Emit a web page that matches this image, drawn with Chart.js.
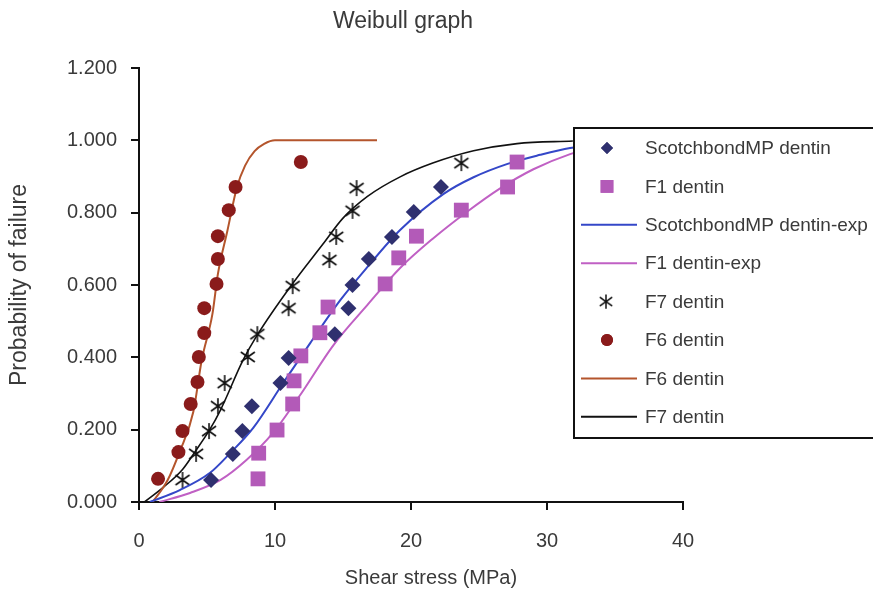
<!DOCTYPE html>
<html>
<head>
<meta charset="utf-8">
<script src="https://cdn.jsdelivr.net/npm/chart.js@4/dist/chart.umd.min.js"></script>
<style>
  html, body { margin: 0; padding: 0; background: #fff; }
  #wrap { width: 873px; height: 596px; }
</style>
</head>
<body>
<div id="wrap"><canvas id="myChart" width="873" height="596"></canvas></div>
<script>
// measured points (shear stress MPa, probability of failure)
var scotchX = [5.3, 6.9, 7.6, 8.3, 10.4, 11.0, 14.4, 15.4, 15.7, 16.9, 18.6, 20.2, 22.2];
var scotchY = [0.061, 0.133, 0.196, 0.265, 0.329, 0.398, 0.464, 0.536, 0.600, 0.672, 0.733, 0.802, 0.871];

var f1X = [8.75, 8.8, 10.15, 11.3, 11.4, 11.9, 13.3, 13.9, 18.1, 19.1, 20.4, 23.7, 27.1, 27.8];
var f1Y = [0.064, 0.135, 0.199, 0.271, 0.335, 0.404, 0.468, 0.539, 0.603, 0.675, 0.735, 0.807, 0.871, 0.940];

var f7X = [3.2, 4.2, 5.15, 5.8, 6.3, 8.0, 8.7, 11.0, 11.3, 14.0, 14.5, 15.7, 16.0, 23.7];
var f7Y = [0.061, 0.133, 0.196, 0.265, 0.329, 0.401, 0.464, 0.536, 0.597, 0.669, 0.733, 0.805, 0.868, 0.937];

var f6X = [1.4, 2.9, 3.2, 3.8, 4.3, 4.4, 4.8, 4.8, 5.7, 5.8, 5.8, 6.6, 7.1, 11.9];
var f6Y = [0.064, 0.138, 0.196, 0.271, 0.332, 0.401, 0.467, 0.536, 0.603, 0.672, 0.735, 0.807, 0.871, 0.940];

// fitted weibull curves
var scotchFitX = [0.8, 3.0, 5.2, 6.7, 8.4, 10.6, 12.6, 14.8, 16.8, 19.2, 22.4, 24.6, 27.1, 29.5, 31.7, 34];
var scotchFitY = [0.0, 0.033, 0.080, 0.135, 0.205, 0.329, 0.440, 0.558, 0.650, 0.752, 0.852, 0.898, 0.935, 0.960, 0.979, 0.99];

var f1FitX = [1.5, 3.75, 6.0, 7.9, 9.85, 11.8, 14.3, 16.8, 19.2, 21.6, 24.1, 26.5, 29.0, 31.7, 34];
var f1FitY = [0.0, 0.025, 0.061, 0.116, 0.191, 0.293, 0.434, 0.545, 0.647, 0.728, 0.802, 0.866, 0.920, 0.962, 0.985];

var f6FitX = [1.0, 2.1, 3.0, 4.0, 4.6, 5.4, 5.8, 6.5, 7.2, 7.8, 8.5, 9.2, 10.0, 17.5];
var f6FitY = [0.0, 0.06, 0.14, 0.25, 0.39, 0.52, 0.63, 0.75, 0.87, 0.93, 0.97, 0.99, 1.0, 1.0];

var f7FitX = [0.4, 1.8, 3.2, 4.1, 5.2, 6.0, 7.65, 8.7, 11.1, 13.5, 15.0, 16.8, 19.2, 21.6, 24.6, 27.8, 31.9];
var f7FitY = [0.0, 0.041, 0.090, 0.138, 0.200, 0.255, 0.392, 0.462, 0.594, 0.712, 0.785, 0.845, 0.899, 0.937, 0.971, 0.991, 0.998];

var yTicks = [0, 0.2, 0.4, 0.6, 0.8, 1.0, 1.2];

function pts(xs, ys) {
  return xs.map(function (x, i) { return { x: x, y: ys[i] }; });
}

// asterisk marker (vertical bar + x)
function makeStar() {
  var c = document.createElement('canvas');
  c.width = 18; c.height = 18;
  var g = c.getContext('2d');
  g.strokeStyle = '#111';
  g.lineWidth = 1.6;
  g.beginPath();
  g.moveTo(9, 1); g.lineTo(9, 17);
  g.moveTo(2, 4); g.lineTo(16, 14);
  g.moveTo(16, 4); g.lineTo(2, 14);
  g.stroke();
  return c;
}
var starImg = makeStar();

var font = "'Liberation Sans', Arial, sans-serif";
var textColor = '#3a3a3a';

// title, x axis title and legend box drawn over the plot
var overlay = {
  id: 'overlay',
  afterDraw: function (chart) {
    var ctx = chart.ctx;
    ctx.save();
    ctx.fillStyle = textColor;
    ctx.textAlign = 'center';
    ctx.textBaseline = 'middle';
    ctx.font = '23px ' + font;
    ctx.fillText('Weibull graph', 403, 22);
    ctx.font = '20px ' + font;
    ctx.fillText('Shear stress (MPa)', 431, 578);

    ctx.textAlign = 'left';
    ctx.fillStyle = '#fff';
    ctx.fillRect(573, 127, 310, 311);
    ctx.strokeStyle = '#111';
    ctx.lineWidth = 2;
    ctx.strokeRect(574, 128, 310, 310);
    ctx.font = '19px ' + font;
    chart.data.datasets.forEach(function (ds, i) {
      var y = 148 + i * 38.4;
      if (ds.showLine) {
        ctx.strokeStyle = ds.borderColor;
        ctx.lineWidth = 2;
        ctx.beginPath();
        ctx.moveTo(581, y); ctx.lineTo(637, y);
        ctx.stroke();
      } else if (ds.pointStyle === starImg) {
        ctx.drawImage(starImg, 598, y - 8, 16, 16);
      } else {
        var style = ds.pointStyle;
        var r = style === 'rect' ? 9 : 6;
        ctx.fillStyle = ds.backgroundColor;
        ctx.strokeStyle = ds.backgroundColor;
        Chart.helpers.drawPoint(ctx, { pointStyle: style, radius: r, borderWidth: 0, rotation: 0 }, 607, y);
        ctx.fill();
      }
      ctx.fillStyle = textColor;
      ctx.fillText(ds.label, 645, y + 1);
    });
    ctx.restore();
  }
};

var ctx = document.getElementById('myChart');
var myChart = new Chart(ctx, {
  type: 'scatter',
  data: {
    datasets: [
      { label: 'ScotchbondMP dentin', data: pts(scotchX, scotchY), pointStyle: 'rectRot', pointRadius: 8, backgroundColor: '#2f306f', borderColor: '#2f306f', borderWidth: 0 },
      { label: 'F1 dentin', data: pts(f1X, f1Y), pointStyle: 'rect', pointRadius: 10.5, backgroundColor: '#b35ab8', borderColor: '#b35ab8', borderWidth: 0 },
      { label: 'ScotchbondMP dentin-exp', data: pts(scotchFitX, scotchFitY), showLine: true, pointRadius: 0, borderColor: '#3447c8', borderWidth: 2, cubicInterpolationMode: 'monotone' },
      { label: 'F1 dentin-exp', data: pts(f1FitX, f1FitY), showLine: true, pointRadius: 0, borderColor: '#c060c4', borderWidth: 2, cubicInterpolationMode: 'monotone' },
      { label: 'F7 dentin', data: pts(f7X, f7Y), pointStyle: starImg, pointRadius: 8, backgroundColor: '#111', borderColor: '#111' },
      { label: 'F6 dentin', data: pts(f6X, f6Y), pointStyle: 'circle', pointRadius: 7, backgroundColor: '#8a1b1b', borderColor: '#8a1b1b', borderWidth: 0 },
      { label: 'F6 dentin', data: pts(f6FitX, f6FitY), showLine: true, pointRadius: 0, borderColor: '#b4552c', borderWidth: 2, cubicInterpolationMode: 'monotone' },
      { label: 'F7 dentin', data: pts(f7FitX, f7FitY), showLine: true, pointRadius: 0, borderColor: '#111', borderWidth: 1.6, cubicInterpolationMode: 'monotone' }
    ]
  },
  options: {
    responsive: false,
    animation: false,
    layout: { padding: { top: 68, right: 190, bottom: 0, left: 0 } },
    plugins: {
      legend: { display: false },
      tooltip: { enabled: false },
      title: { display: false }
    },
    scales: {
      x: {
        type: 'linear',
        min: 0, max: 40,
        grid: { drawOnChartArea: false, drawTicks: true, tickLength: 8, color: '#111', lineWidth: 2 },
        border: { display: true, color: '#111', width: 2 },
        ticks: { stepSize: 10, color: textColor, padding: 19, font: { family: font, size: 20 } },
        title: { display: false },
        afterFit: function (s) { s.height = 94; }
      },
      y: {
        type: 'linear',
        min: 0, max: 1.2,
        afterBuildTicks: function (s) { s.ticks = yTicks.map(function (v) { return { value: v }; }); },
        grid: { drawOnChartArea: false, drawTicks: true, tickLength: 8, color: '#111', lineWidth: 2 },
        border: { display: true, color: '#111', width: 2 },
        ticks: { color: textColor, padding: 14, font: { family: font, size: 20 }, callback: function (v) { return v.toFixed(3); } },
        title: { display: true, text: 'Probability of failure', color: textColor, font: { family: font, size: 23 }, padding: { top: 6, bottom: 0 } },
        afterFit: function (s) { s.width = 139; }
      }
    }
  },
  plugins: [overlay]
});
</script>
</body>
</html>
